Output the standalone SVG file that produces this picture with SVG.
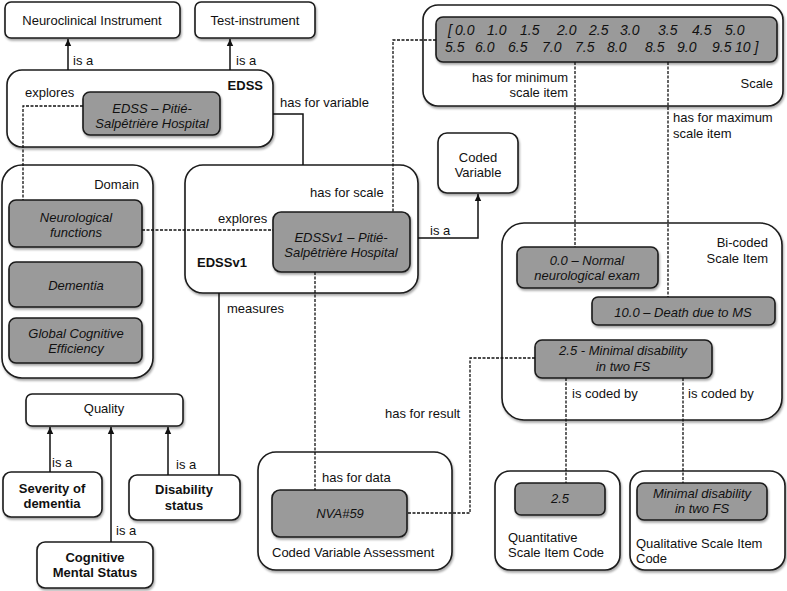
<svg xmlns="http://www.w3.org/2000/svg" width="787" height="591" viewBox="0 0 787 591">
<style>
text{font-family:"Liberation Sans",Arial,sans-serif;font-size:13px;fill:#111}
.b{font-weight:bold}
.i{font-style:italic}
.m{text-anchor:middle}
.e{text-anchor:end}
.box{fill:#fff;stroke:#1a1a1a;stroke-width:1.6;filter:url(#sh)}
.g{fill:#9a9a9a;stroke:#1a1a1a;stroke-width:1.6;filter:url(#sh)}
.s{fill:none;stroke:#111;stroke-width:1.5}
.d{fill:none;stroke:#111;stroke-width:1.3;stroke-dasharray:3 1.5}
</style>
<defs>
<filter id="sh" x="-10%" y="-10%" width="130%" height="140%">
<feDropShadow dx="1" dy="2" stdDeviation="1.2" flood-color="#000" flood-opacity="0.35"/>
</filter>
<marker id="ar" markerWidth="8" markerHeight="8" refX="7" refY="4" orient="auto" markerUnits="userSpaceOnUse">
<path d="M0,0.8 L7,4 L0,7.2 Z" fill="#111"/>
</marker>
</defs>
<rect width="787" height="591" fill="#fff"/>

<g id="neuroclinical-instrument">
<rect class="box" x="5" y="2" width="175" height="36" rx="6"/>
<text class="m" x="92" y="25">Neuroclinical Instrument</text>
</g>
<g id="test-instrument">
<rect class="box" x="195" y="2" width="120" height="36" rx="6"/>
<text class="m" x="255" y="25">Test-instrument</text>
</g>
<g id="edss">
<rect class="box" x="7" y="70" width="266" height="77" rx="15"/>
<text class="b e" x="263" y="90">EDSS</text>
</g>
<g id="edss-pitie">
<rect class="g" x="83" y="92" width="137" height="43" rx="7"/>
<text class="i m" x="152" y="113">EDSS – Pitié-</text>
<text class="i m" x="152" y="128">Salpêtrière Hospital</text>
</g>
<g id="scale">
<rect class="box" x="423" y="5" width="360" height="101" rx="15"/>
<text class="e" x="773" y="88">Scale</text>
</g>
<g id="scale-items">
<rect class="g" x="436" y="17" width="341" height="45" rx="7"/>
<text class="i" style="font-size:14px"><tspan x="448" y="35">[</tspan><tspan x="455" y="35">0.0</tspan><tspan x="487" y="35">1.0</tspan><tspan x="520" y="35">1.5</tspan><tspan x="557" y="35">2.0</tspan><tspan x="589" y="35">2.5</tspan><tspan x="620" y="35">3.0</tspan><tspan x="658" y="35">3.5</tspan><tspan x="692" y="35">4.5</tspan><tspan x="725" y="35">5.0</tspan><tspan x="445" y="52">5.5</tspan><tspan x="475" y="52">6.0</tspan><tspan x="508" y="52">6.5</tspan><tspan x="542" y="52">7.0</tspan><tspan x="575" y="52">7.5</tspan><tspan x="607" y="52">8.0</tspan><tspan x="645" y="52">8.5</tspan><tspan x="677" y="52">9.0</tspan><tspan x="712" y="52">9.5</tspan><tspan x="735" y="52">10 ]</tspan></text>
</g>
<g id="coded-variable">
<rect class="box" x="438" y="133" width="80" height="60" rx="9"/>
<text class="m" x="478" y="162">Coded</text>
<text class="m" x="478" y="177">Variable</text>
</g>
<g id="domain">
<rect class="box" x="2" y="165" width="151" height="213" rx="20"/>
<text class="e" x="139" y="189">Domain</text>
</g>
<g id="neurological-functions">
<rect class="g" x="9" y="200" width="133" height="47" rx="7"/>
<text class="i m" x="76" y="222">Neurological</text>
<text class="i m" x="76" y="237">functions</text>
</g>
<g id="dementia">
<rect class="g" x="9" y="262" width="133" height="45" rx="7"/>
<text class="i m" x="76" y="290">Dementia</text>
</g>
<g id="global-cognitive-efficiency">
<rect class="g" x="9" y="318" width="133" height="45" rx="7"/>
<text class="i m" x="76" y="338">Global Cognitive</text>
<text class="i m" x="76" y="353">Efficiency</text>
</g>
<g id="edssv1">
<rect class="box" x="185" y="165" width="233" height="128" rx="18"/>
<text class="b" x="197" y="267">EDSSv1</text>
</g>
<g id="edssv1-pitie">
<rect class="g" x="273" y="212" width="137" height="60" rx="8"/>
<text class="i m" x="341" y="242">EDSSv1 – Pitié-</text>
<text class="i m" x="341" y="257">Salpêtrière Hospital</text>
</g>
<g id="bi-coded-scale-item">
<rect class="box" x="502" y="223" width="280" height="197" rx="22"/>
<text class="e" x="768" y="247">Bi-coded</text>
<text class="e" x="768" y="263">Scale Item</text>
</g>
<g id="normal-exam">
<rect class="g" x="517" y="247" width="141" height="41" rx="7"/>
<text class="i m" x="587" y="265">0.0 – Normal</text>
<text class="i m" x="587" y="280">neurological exam</text>
</g>
<g id="death-ms">
<rect class="g" x="592" y="297" width="183" height="28" rx="6"/>
<text class="i m" x="683" y="317">10.0 – Death due to MS</text>
</g>
<g id="minimal-disability">
<rect class="g" x="535" y="340" width="177" height="38" rx="7"/>
<text class="i m" x="623" y="355">2.5 - Minimal disability</text>
<text class="i m" x="623" y="371">in two FS</text>
</g>
<g id="quality">
<rect class="box" x="26" y="394" width="157" height="32" rx="6"/>
<text class="m" x="104" y="413">Quality</text>
</g>
<g id="severity-of-dementia">
<rect class="box" x="3" y="472" width="99" height="45" rx="8"/>
<text class="b m" x="52" y="493">Severity of</text>
<text class="b m" x="52" y="508">dementia</text>
</g>
<g id="disability-status">
<rect class="box" x="129" y="475" width="111" height="45" rx="8"/>
<text class="b m" x="184" y="494">Disability</text>
<text class="b m" x="184" y="510">status</text>
</g>
<g id="cognitive-mental-status">
<rect class="box" x="37" y="542" width="116" height="46" rx="8"/>
<text class="b m" x="95" y="562">Cognitive</text>
<text class="b m" x="95" y="577">Mental Status</text>
</g>
<g id="coded-variable-assessment">
<rect class="box" x="258" y="452" width="194" height="118" rx="18"/>
<text x="272" y="557">Coded Variable Assessment</text>
</g>
<g id="nva59">
<rect class="g" x="272" y="490" width="135" height="47" rx="8"/>
<text class="i m" x="340" y="518">NVA#59</text>
</g>
<g id="quantitative-scale-item-code">
<rect class="box" x="495" y="471" width="125" height="99" rx="15"/>
<text x="508" y="542">Quantitative</text>
<text x="508" y="557">Scale Item Code</text>
</g>
<g id="code-2-5">
<rect class="g" x="515" y="483" width="90" height="32" rx="6"/>
<text class="i m" x="560" y="503">2.5</text>
</g>
<g id="qualitative-scale-item-code">
<rect class="box" x="630" y="471" width="155" height="99" rx="15"/>
<text x="636" y="548">Qualitative Scale Item</text>
<text x="636" y="563">Code</text>
</g>
<g id="code-minimal">
<rect class="g" x="637" y="483" width="130" height="37" rx="7"/>
<text class="i m" x="702" y="498">Minimal disability</text>
<text class="i m" x="702" y="513">in two FS</text>
</g>

<g id="connectors">
<path class="s" d="M68,70 V39" marker-end="url(#ar)"/>
<path class="s" d="M230,70 V39" marker-end="url(#ar)"/>
<path class="d" d="M83,106 H23 V200"/>
<path class="s" d="M273,114 H303 V165"/>
<path class="d" d="M436,40 H393 V212"/>
<path class="d" d="M142,230 H273"/>
<path class="s" d="M418,238 H478 V194" marker-end="url(#ar)"/>
<path class="d" d="M575,62 V247"/>
<path class="d" d="M668,62 V297"/>
<path class="s" d="M219,293 V475"/>
<path class="d" d="M315,272 V490"/>
<path class="d" d="M535,358 H470 V513 H407"/>
<path class="d" d="M566,378 V483"/>
<path class="d" d="M683,378 V483"/>
<path class="s" d="M50,472 V427" marker-end="url(#ar)"/>
<path class="s" d="M111,542 V427" marker-end="url(#ar)"/>
<path class="s" d="M168,475 V427" marker-end="url(#ar)"/>
<g id="connector-labels">
<text x="73" y="65">is a</text>
<text x="236" y="65">is a</text>
<text x="25" y="97">explores</text>
<text x="280" y="107">has for variable</text>
<text x="310" y="197">has for scale</text>
<text x="218" y="223">explores</text>
<text x="430" y="235">is a</text>
<text class="e" x="568" y="82">has for minimum</text>
<text class="e" x="568" y="97">scale item</text>
<text x="673" y="122">has for maximum</text>
<text x="673" y="138">scale item</text>
<text x="227" y="313">measures</text>
<text x="385" y="418">has for result</text>
<text x="572" y="398">is coded by</text>
<text x="688" y="398">is coded by</text>
<text x="322" y="482">has for data</text>
<text x="52" y="467">is a</text>
<text x="176" y="469">is a</text>
<text x="116" y="535">is a</text>
</g>
</g>
</svg>
